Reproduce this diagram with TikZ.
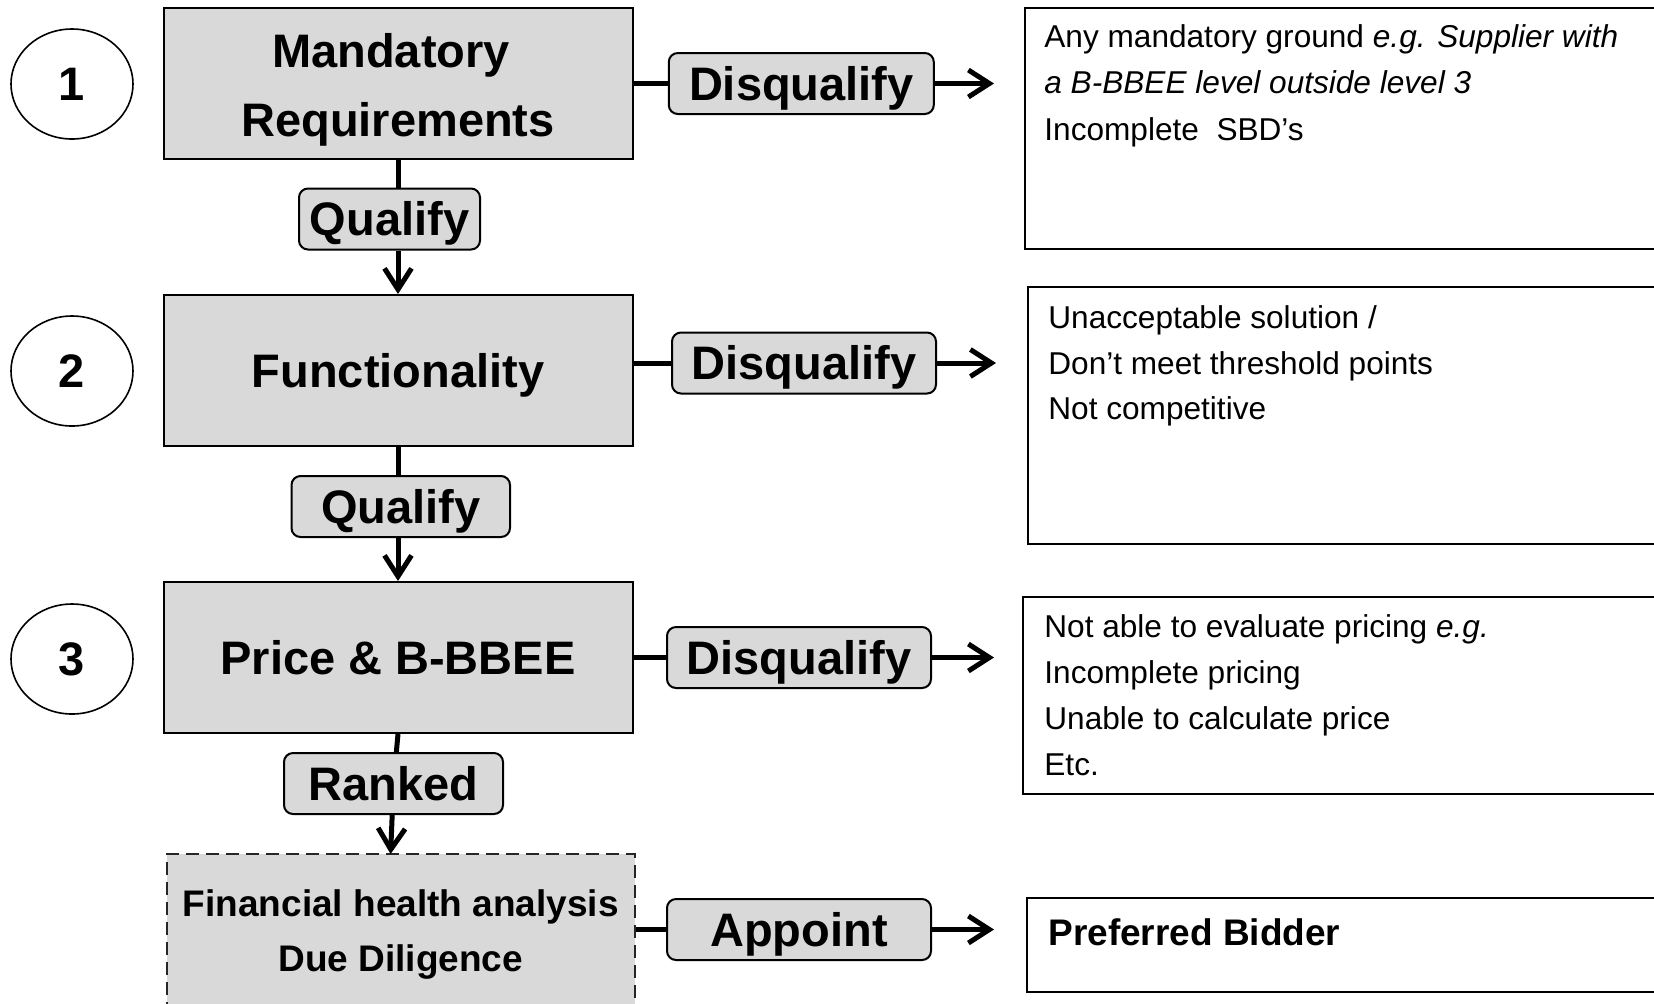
\documentclass[tikz,border=0pt]{standalone}
\usepackage{fontspec}
\setmainfont{Liberation Sans}
\usetikzlibrary{arrows.meta,shapes.geometric}
\definecolor{boxgray}{HTML}{D9D9D9}
\begin{document}
\begin{tikzpicture}[x=0.5pt,y=-0.5pt,
  bigfont/.style={font=\fontsize{23.5}{28}\selectfont\bfseries},
  stage/.style={draw=black,line width=1pt,fill=boxgray,rectangle,inner sep=0pt,
    minimum width=234.5pt,minimum height=75.5pt,bigfont,text height=16.8pt,text depth=0pt},
  numcirc/.style={draw=black,line width=0.8pt,ellipse,inner sep=0pt,
    minimum width=61pt,minimum height=55pt,bigfont,text height=16.8pt,text depth=0pt},
  tag/.style={draw=black,line width=1pt,fill=boxgray,rounded corners=4.5pt,inner sep=0pt,
    minimum height=30.5pt,bigfont,text height=16.8pt,text depth=0pt},
  plainline/.style={inner sep=0pt,anchor=base,bigfont},
  midline/.style={inner sep=0pt,anchor=base,font=\fontsize{18.5}{22}\selectfont\bfseries},
  listline/.style={inner sep=0pt,anchor=base west,font=\fontsize{15.8}{19}\selectfont},
  infobox/.style={draw=black,line width=1pt,rectangle,inner sep=0pt},
  conn/.style={line width=2.5pt,black},
  arr/.style={-{Straight Barb[length=10.5pt,width=13.5pt]}}
]
\useasboundingbox (0,0) rectangle (1654,1003);
\fill[white] (0,0) rectangle (1654,1003);
\clip (0,0) rectangle (1654,1003);

% number circles
\node[numcirc] (c1) at (72,84) {1};
\node[numcirc] (c2) at (72,371) {2};
\node[numcirc] (c3) at (72,659) {3};

% stage boxes
\node[stage] (m1) at (398,83) {};
\node[plainline] (m1a) at (391,67) {Mandatory};
\node[plainline] (m1b) at (398,136) {Requirements};
\node[stage] (f2) at (398,370.5) {Functionality};
\node[stage] (p3) at (398,657.5) {Price \& B-BBEE};
\node[draw=black!85,line width=1pt,dash pattern=on 6.5pt off 3.5pt,fill=boxgray,
      rectangle,inner sep=0pt,minimum width=234.25pt,minimum height=77.5pt] (dd) at (400.8,931.5) {};
\node[midline] (dda) at (400.8,916) {Financial health analysis};
\node[midline] (ddb) at (400.8,971) {Due Diligence};

% tags
\node[tag,minimum width=90.5pt] (q1) at (389.5,219) {Qualify};
\node[tag,minimum width=109.25pt] (q2) at (400.75,506.5) {Qualify};
\node[tag,minimum width=109.5pt] (rk) at (393.5,783.5) {Ranked};
\node[tag,minimum width=132.5pt] (d1) at (801.3,83.5) {Disqualify};
\node[tag,minimum width=132pt] (d2) at (804,363) {Disqualify};
\node[tag,minimum width=132pt] (d3) at (799,657.5) {Disqualify};
\node[tag,minimum width=132pt] (ap) at (799,929.5) {Appoint};

% info boxes
\node[infobox,minimum width=347.5pt,minimum height=120.75pt] (t1) at (1372.5,128.25) {};
\node[listline] (t1a) at (1044,47) {Any mandatory ground \textit{e.g. Supplier with}};
\node[listline] (t1b) at (1044,93.5) {\textit{a B-BBEE level outside level 3}};
\node[listline] (t1c) at (1044,140) {Incomplete\ \ SBD’s};

\node[infobox,minimum width=346.25pt,minimum height=128.5pt] (t2) at (1373.75,415.5) {};
\node[listline] (t2a) at (1048,328) {Unacceptable solution /};
\node[listline] (t2b) at (1048,374) {Don’t meet threshold points};
\node[listline] (t2c) at (1048,419.5) {Not competitive};

\node[infobox,minimum width=348.5pt,minimum height=98.5pt] (t3) at (1371.5,695.5) {};
\node[listline] (t3a) at (1044,637) {Not able to evaluate pricing \textit{e.g.}};
\node[listline] (t3b) at (1044,683) {Incomplete pricing};
\node[listline] (t3c) at (1044,729) {Unable to calculate price};
\node[listline] (t3d) at (1044,775) {Etc.};

\node[infobox,minimum width=346.5pt,minimum height=47pt] (t4) at (1373.5,945) {};
\node[inner sep=0pt,anchor=base west,font=\fontsize{18.5}{22}\selectfont\bfseries] (t4a) at (1048,945) {Preferred Bidder};

% arrow end points
\coordinate (e1) at (994,83.5);
\coordinate (e2) at (996,363);
\coordinate (e3) at (994,657.5);
\coordinate (e4) at (994,929.5);
\coordinate (ddin) at (390.6,854);

% vertical connectors
\draw[conn] (m1.south) -- (m1.south |- q1.north);
\draw[conn,arr] (m1.south |- q1.south) -- (f2.north);
\draw[conn] (f2.south) -- (f2.south |- q2.north);
\draw[conn,arr] (f2.south |- q2.south) -- (p3.north);
\draw[conn] (p3.south) -- (rk);
\draw[conn,arr] (rk) -- (ddin);

% horizontal connectors
\draw[conn] (m1.east |- d1.west) -- (d1.west);
\draw[conn,arr] (d1.east) -- (e1);
\draw[conn] (f2.east |- d2.west) -- (d2.west);
\draw[conn,arr] (d2.east) -- (e2);
\draw[conn] (p3.east |- d3.west) -- (d3.west);
\draw[conn,arr] (d3.east) -- (e3);
\draw[conn] (dd.east |- ap.west) -- (ap.west);
\draw[conn,arr] (ap.east) -- (e4);
\end{tikzpicture}
\end{document}
